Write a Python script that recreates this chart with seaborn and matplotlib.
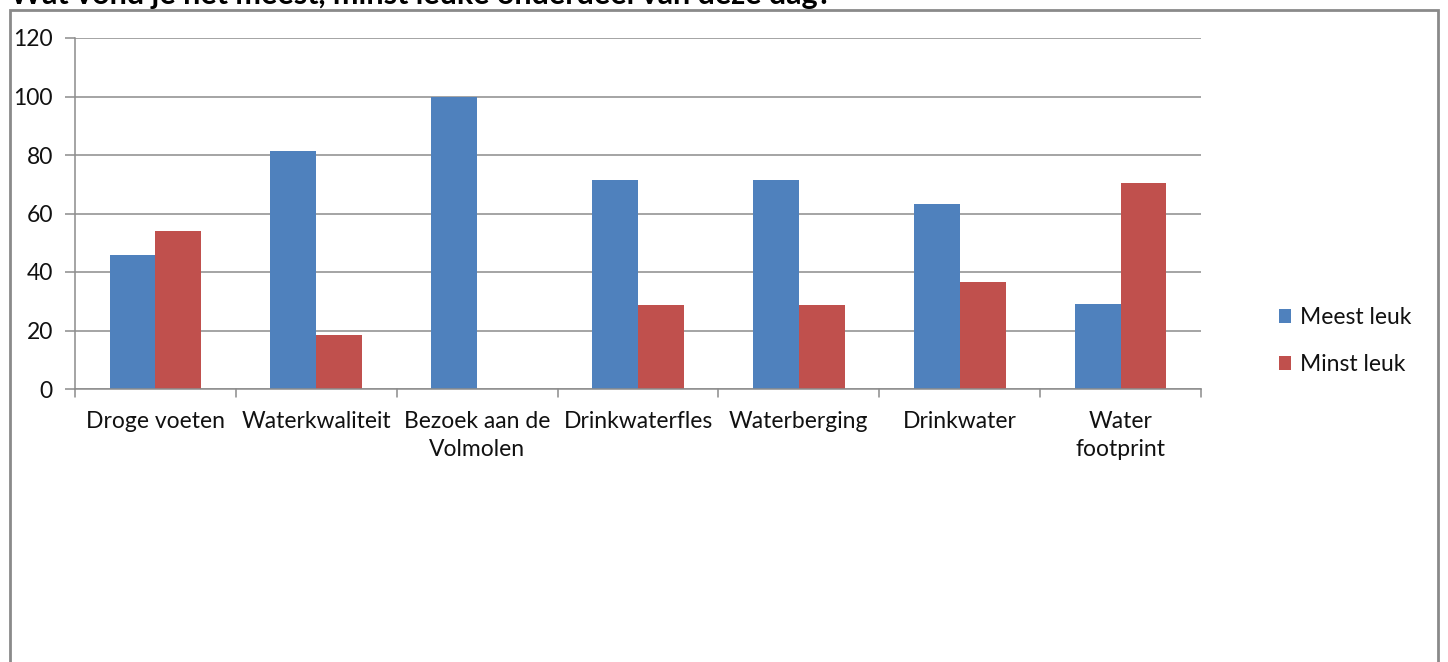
import matplotlib
matplotlib.use("Agg")
import matplotlib.pyplot as plt
from matplotlib.patches import Rectangle, Patch
import seaborn as sns
import pandas as pd

categories = ["Droge voeten", "Waterkwaliteit", "Bezoek aan de\nVolmolen", "Drinkwaterfles",
              "Waterberging", "Drinkwater", "Water\nfootprint"]
meest_leuk = [45.8, 81.4, 100.0, 71.5, 71.5, 63.2, 29.1]
minst_leuk = [54.0, 18.5, 0.0, 28.7, 28.7, 36.6, 70.4]
series = ["Meest leuk", "Minst leuk"]
colors = ["#4F81BD", "#C0504D"]
yticks = [0, 20, 40, 60, 80, 100, 120]
title = "Wat vond je het meest, minst leuke onderdeel van deze dag?"

df = pd.DataFrame({
    "cat": categories * 2,
    "value": meest_leuk + minst_leuk,
    "series": [series[0]] * len(categories) + [series[1]] * len(categories),
})

sns.set_style("white")
plt.rcParams["font.family"] = ["Lato", "DejaVu Sans"]

W, H = 1448, 662
fig = plt.figure(figsize=(W / 100, H / 100), dpi=100)
ax = fig.add_axes([75 / W, (H - 389) / H, (1201 - 75) / W, (389 - 38) / H])

sns.barplot(data=df, x="cat", y="value", hue="series", palette=colors,
            width=0.57, ax=ax, legend=False, saturation=1, linewidth=0,
            edgecolor="none")

ax.set_ylim(0, 120)
ax.set_xlim(-0.5, len(categories) - 0.5)
ax.set_yticks(yticks)
ax.set_yticklabels([str(t) for t in yticks], fontsize=16.5, color="#111111")
ax.yaxis.grid(True, color="#8c8c8c", linewidth=1.1)
ax.set_axisbelow(True)
ax.set_xlabel("")
ax.set_ylabel("")
for s in ["top", "right"]:
    ax.spines[s].set_visible(False)
for s in ["left", "bottom"]:
    ax.spines[s].set_color("#8c8c8c")
    ax.spines[s].set_linewidth(1.1)

ax.set_xticks(range(len(categories)))
ax.set_xticklabels(categories, fontsize=16.5, color="#111111", linespacing=1.4)
ax.tick_params(axis="x", length=0, pad=16)
ax.tick_params(axis="y", left=True, length=7, color="#8c8c8c", width=1.1, pad=9)
# category separators below the axis
for i in range(len(categories) + 1):
    ax.plot([i - 0.5, i - 0.5], [0, -0.022], transform=ax.get_xaxis_transform(),
            color="#8c8c8c", linewidth=1.1, clip_on=False)

handles = [Patch(facecolor=c, edgecolor="none") for c in colors]
fig.legend(handles, series, loc="center left", bbox_to_anchor=(1258 / W, 1 - 341 / H),
           frameon=False, fontsize=16.5, handlelength=0.55, handleheight=0.55,
           handletextpad=0.4, labelspacing=1.15, labelcolor="#111111")

fig.patches.append(Rectangle((10 / W, -0.1), (1438 - 10) / W, 1.1 - 10 / H,
                             transform=fig.transFigure, fill=False,
                             edgecolor="#8a8a8a", linewidth=2))

fig.text(10 / W, 1 - 4 / H, title, fontsize=22, fontweight="bold", ha="left",
         va="baseline", color="black")

fig.savefig("out.png", dpi=100, facecolor="white")
